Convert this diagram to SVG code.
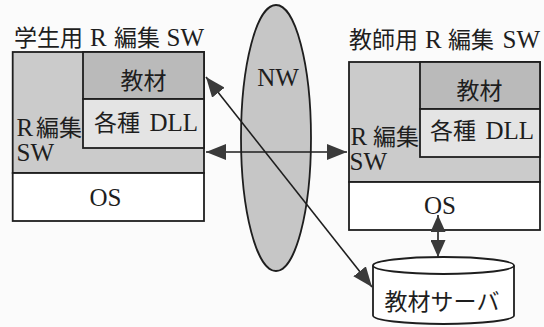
<svg xmlns="http://www.w3.org/2000/svg" width="544" height="327" viewBox="0 0 544 327">
<style>
  text { font-family: "Liberation Serif", "Noto Sans CJK JP", serif; font-size: 23px; fill: #1e1e1e; }
  .lat { font-size: 25px; }
  .mid { text-anchor: middle; }
  .box { stroke: #1e1e1e; stroke-width: 1.8; }
  .swbg { fill: #cbcbcb; }
  .mat { fill: #bababa; }
  .dll { fill: #e4e4e4; }
  .os { fill: #ffffff; }
  .conn { stroke: #1e1e1e; stroke-width: 1.6; fill: none; }
</style>
<defs>
  <marker id="ah" viewBox="0 0 20 16" refX="20" refY="8" markerWidth="20" markerHeight="16" markerUnits="userSpaceOnUse" orient="auto-start-reverse">
    <path d="M0,0 L20,8 L0,16 Z" fill="#3a3a3a"/>
  </marker>
  <marker id="ahs" viewBox="0 0 17 15" refX="17" refY="7.5" markerWidth="17" markerHeight="15" markerUnits="userSpaceOnUse" orient="auto-start-reverse">
    <path d="M0,0 L17,7.5 L0,15 Z" fill="#3a3a3a"/>
  </marker>
</defs>
<rect width="544" height="327" fill="#fbfbfb"/>

<g id="network">
  <ellipse cx="276" cy="138" rx="35" ry="133" fill="#c6c6c6" stroke="#1e1e1e" stroke-width="1.8"/>
  <text class="mid lat" x="278" y="86">NW</text>
</g>

<g id="student-sw">
  <text y="46"><tspan x="14">学生用</tspan><tspan class="lat" x="90">R</tspan><tspan x="114">編集</tspan><tspan class="lat" x="166.5">SW</tspan></text>
  <rect class="box swbg" x="12.7" y="52" width="191.3" height="121"/>
  <rect class="box os" x="12.7" y="173" width="191.3" height="48"/>
  <rect class="box mat" x="83" y="52" width="121" height="47"/>
  <rect class="box dll" x="83" y="99" width="121" height="49"/>
  <text class="mid" x="143.5" y="89">教材</text>
  <text y="131"><tspan x="94">各種</tspan><tspan class="lat" x="149.5">DLL</tspan></text>
  <text y="136"><tspan class="lat" x="16.5">R</tspan><tspan x="36">編集</tspan></text>
  <text class="lat" x="16.5" y="161">SW</text>
  <text class="mid lat" x="105.5" y="206">OS</text>
</g>

<g id="teacher-sw">
  <text y="48"><tspan x="349">教師用</tspan><tspan class="lat" x="425">R</tspan><tspan x="448">編集</tspan><tspan class="lat" x="502.5">SW</tspan></text>
  <rect class="box swbg" x="349" y="62" width="191" height="120"/>
  <rect class="box os" x="349" y="182" width="191" height="48"/>
  <rect class="box mat" x="420" y="62" width="120" height="47"/>
  <rect class="box dll" x="420" y="109" width="120" height="48"/>
  <text class="mid" x="479.5" y="99">教材</text>
  <text y="139"><tspan x="430">各種</tspan><tspan class="lat" x="485.5">DLL</tspan></text>
  <text y="145"><tspan class="lat" x="350.5">R</tspan><tspan x="373">編集</tspan></text>
  <text class="lat" x="349.5" y="170">SW</text>
  <text class="mid lat" x="440" y="214">OS</text>
</g>

<g id="material-server">
  <path d="M373,265.5 L373,315.5 A70.5,8.5 0 0 0 514,315.5 L514,265.5" fill="#ffffff" stroke="#1e1e1e" stroke-width="1.8"/>
  <ellipse cx="443.5" cy="265.5" rx="70.5" ry="8.5" fill="#ffffff" stroke="#1e1e1e" stroke-width="1.8"/>
  <text class="mid" x="442" y="310">教材サーバ</text>
</g>

<g id="connectors">
  <line class="conn" x1="206" y1="152" x2="347" y2="152" marker-start="url(#ah)" marker-end="url(#ah)"/>
  <line class="conn" x1="206" y1="77" x2="372" y2="287" marker-start="url(#ah)" marker-end="url(#ah)"/>
  <line class="conn" x1="438" y1="215" x2="438" y2="257" marker-start="url(#ahs)" marker-end="url(#ahs)"/>
</g>
</svg>
